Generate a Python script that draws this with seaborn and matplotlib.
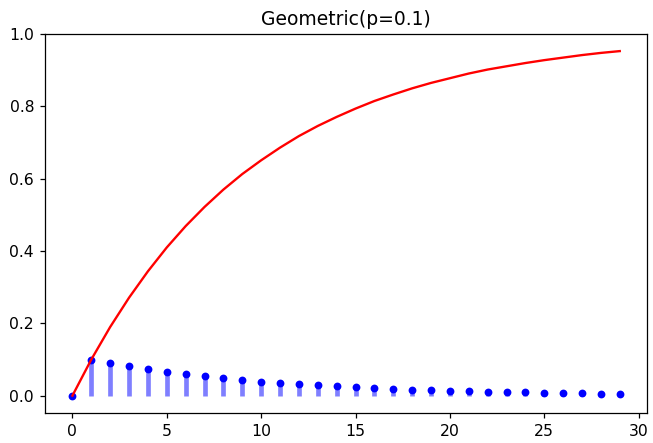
import matplotlib
matplotlib.use("Agg")
import matplotlib.pyplot as plt
import seaborn as sns
import pandas as pd

k = list(range(30))
pmf = [0.0, 0.1, 0.09, 0.081, 0.0729, 0.0656, 0.0590, 0.0531, 0.0478, 0.0430,
       0.0387, 0.0349, 0.0314, 0.0282, 0.0254, 0.0229, 0.0206, 0.0185, 0.0167, 0.0150,
       0.0135, 0.0122, 0.0109, 0.0098, 0.0089, 0.0080, 0.0072, 0.0065, 0.0058, 0.0052]
cdf = [0.0, 0.1, 0.19, 0.271, 0.344, 0.410, 0.469, 0.522, 0.570, 0.613,
       0.651, 0.686, 0.718, 0.746, 0.771, 0.794, 0.815, 0.833, 0.850, 0.865,
       0.878, 0.891, 0.902, 0.911, 0.920, 0.928, 0.935, 0.942, 0.948, 0.953]
title = "Geometric(p=0.1)"

df = pd.DataFrame({"k": k, "pmf": pmf, "cdf": cdf})

plt.rcParams["font.family"] = ["DejaVu Sans"]
DPI = 112.5
fig, ax = plt.subplots(figsize=(653 / DPI, 443 / DPI), dpi=DPI)
fig.subplots_adjust(left=0.069, right=0.991, top=0.923, bottom=0.068)

ax.vlines(df["k"], 0, df["pmf"], colors="b", lw=3, alpha=0.5)
sns.scatterplot(data=df, x="k", y="pmf", ax=ax, color="b", s=25, linewidth=0, zorder=3)
sns.lineplot(data=df, x="k", y="cdf", ax=ax, color="r", lw=1.5, zorder=4)

ax.set_title(title, fontsize=12)
ax.set_xlabel("")
ax.set_ylabel("")
ax.set_xlim(-1.45, 30.45)
ax.set_ylim(-0.0476, 1.0)
ax.set_xticks([0, 5, 10, 15, 20, 25, 30])
ax.set_yticks([0.0, 0.2, 0.4, 0.6, 0.8, 1.0])
fig.savefig("out.png", dpi=DPI)
